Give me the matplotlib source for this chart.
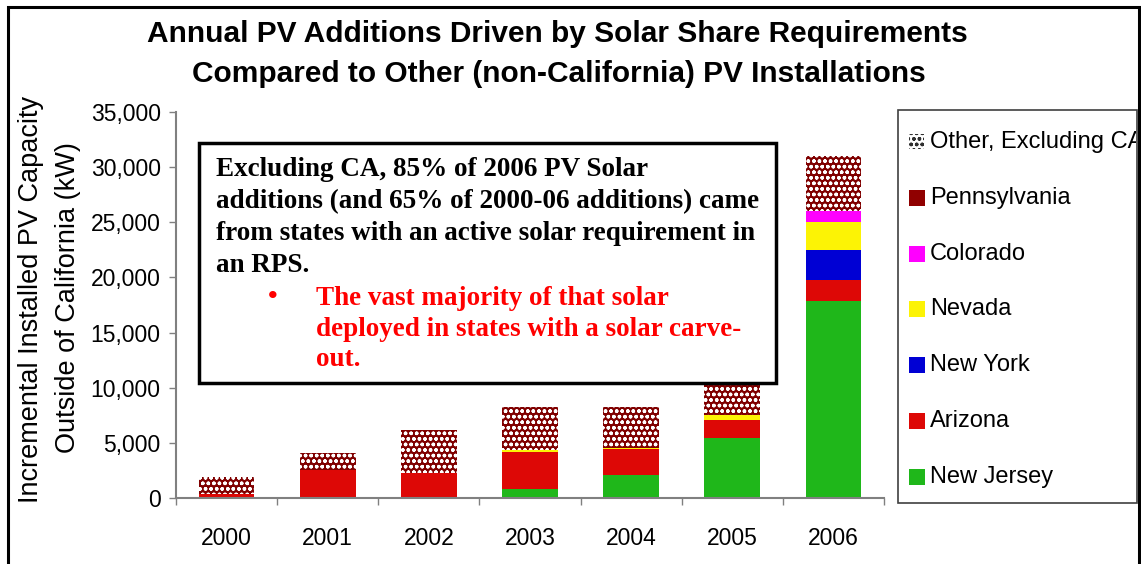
import numpy as np
import matplotlib.pyplot as plt
from matplotlib.patches import Rectangle
from matplotlib.transforms import Bbox

plt.rcParams['hatch.linewidth'] = 1.0

# Data (kW)
years = ['2000', '2001', '2002', '2003', '2004', '2005', '2006']
new_jersey = [0, 0, 0, 820, 2090, 5470, 17860]
arizona = [350, 2570, 2290, 3350, 2380, 1600, 1930]
new_york = [0, 0, 0, 0, 0, 0, 2690]
nevada = [0, 0, 0, 180, 90, 460, 2570]
colorado = [0, 0, 0, 0, 0, 0, 1000]
pennsylvania = [0, 0, 0, 0, 0, 0, 0]
other = [1550, 1510, 3880, 3900, 3720, 2900, 4980]

series_names = ['New Jersey', 'Arizona', 'New York', 'Nevada', 'Colorado',
                'Pennsylvania', 'Other, Excluding CA']
series_colors = ['#1fb71a', '#dd0806', '#0000d4', '#fcf305', '#ff00ff',
                 '#900000', '#800000']
y_ticks = [0, 5000, 10000, 15000, 20000, 25000, 30000, 35000]

W, H = 1141, 564
SANS = 'Liberation Sans'
SERIF = 'Liberation Serif'


def fx(px):
    return px / W


def fy(py):
    return 1 - py / H


fig = plt.figure(figsize=(W / 100, H / 100), dpi=100)
ax = fig.add_axes([fx(176), fy(498), fx(884) - fx(176), fy(112) - fy(498)])

series = [new_jersey, arizona, new_york, nevada, colorado, pennsylvania, other]
x = np.arange(len(years))
bottom = np.zeros(len(years))
for name, vals, col in zip(series_names, series, series_colors):
    vals = np.array(vals, dtype=float)
    if name.startswith('Other'):
        ax.bar(x, vals, 0.55, bottom=bottom, color=col, edgecolor='white',
               linewidth=0, hatch='ooo', zorder=2)
    else:
        ax.bar(x, vals, 0.55, bottom=bottom, color=col, linewidth=0, zorder=2)
    bottom += vals

ax.set_xlim(-0.5, len(years) - 0.5)
ax.set_ylim(0, 35000)
ax.set_yticks(y_ticks)
ax.set_yticklabels(['{:,}'.format(v) for v in y_ticks])
ax.set_xticks(x)
ax.set_xticklabels(years)
ax.set_xticks(np.arange(-0.5, len(years)), minor=True)
ax.tick_params(axis='x', which='major', length=0, pad=21, labelsize=16.5)
ax.tick_params(axis='x', which='minor', length=5, width=1, color='#808080',
               direction='out')
ax.tick_params(axis='y', length=5, width=1, color='#808080', pad=6,
               labelsize=16.5)
for lab in ax.get_xticklabels() + ax.get_yticklabels():
    lab.set_fontfamily(SANS)
for s in ['top', 'right']:
    ax.spines[s].set_visible(False)
for s in ['left', 'bottom']:
    ax.spines[s].set_color('#808080')
    ax.spines[s].set_linewidth(1.5)

# Outer frame
fig.patches.append(Rectangle((fx(8), fy(600)), fx(1139) - fx(8), fy(7) - fy(600),
                             transform=fig.transFigure, fill=False,
                             edgecolor='black', linewidth=2.2, zorder=5))

# Title
fig.text(fx(557), fy(34), 'Annual PV Additions Driven by Solar Share Requirements',
         ha='center', va='center', fontsize=21.5, fontweight='bold', family=SANS)
fig.text(fx(559), fy(74), 'Compared to Other (non-California) PV Installations',
         ha='center', va='center', fontsize=21.5, fontweight='bold', family=SANS)

# Y label
fig.text(fx(31), fy(299), 'Incremental Installed PV Capacity',
         rotation=90, ha='center', va='center', fontsize=19.5, family=SANS)
fig.text(fx(68), fy(298), 'Outside of California (kW)',
         rotation=90, ha='center', va='center', fontsize=19.5, family=SANS)

# Annotation box
fig.patches.append(Rectangle((fx(199), fy(383)), fx(776) - fx(199), fy(143) - fy(383),
                             transform=fig.transFigure, facecolor='white',
                             edgecolor='black', linewidth=2.5, zorder=4))
box_lines = ['Excluding CA, 85% of 2006 PV Solar',
             'additions (and 65% of 2000-06 additions) came',
             'from states with an active solar requirement in',
             'an RPS.']
for i, line in enumerate(box_lines):
    fig.text(fx(216), fy(176 + 32 * i), line, ha='left', va='baseline',
             fontsize=19.5, fontweight='bold', family=SERIF, zorder=6)
red_lines = ['The vast majority of that solar',
             'deployed in states with a solar carve-',
             'out.']
fig.text(fx(273), fy(304), '\u2022', ha='center', va='baseline', color='red',
         fontsize=19.5, fontweight='bold', family=SERIF, zorder=6)
for i, line in enumerate(red_lines):
    fig.text(fx(316), fy(305 + 30.5 * i), line, ha='left', va='baseline',
             color='red', fontsize=19.5, fontweight='bold', family=SERIF, zorder=6)

# Legend box
fig.patches.append(Rectangle((fx(898), fy(503)), fx(1137) - fx(898), fy(110) - fy(503),
                             transform=fig.transFigure, facecolor='white',
                             edgecolor='#404040', linewidth=1.2, zorder=4))
clip = Bbox.from_extents(898, H - 503, 1136, H - 110)
for i, (name, col) in enumerate(zip(series_names[::-1], series_colors[::-1])):
    yc = 142 + 55.8 * i
    if name.startswith('Other'):
        p = Rectangle((fx(909), fy(yc + 7)), fx(15), 15 / H, transform=fig.transFigure,
                      facecolor='white', edgecolor='#303030', linewidth=0,
                      hatch='ooo', zorder=6)
    else:
        p = Rectangle((fx(909), fy(yc + 8)), fx(16), 16 / H, transform=fig.transFigure,
                      facecolor=col, linewidth=0, zorder=6)
    fig.patches.append(p)
    t = fig.text(fx(930), fy(yc), name, ha='left', va='center', fontsize=17,
                 family=SANS, zorder=6)
    t.set_clip_box(clip)
    t.set_clip_on(True)

fig.savefig('out.png', dpi=100)
